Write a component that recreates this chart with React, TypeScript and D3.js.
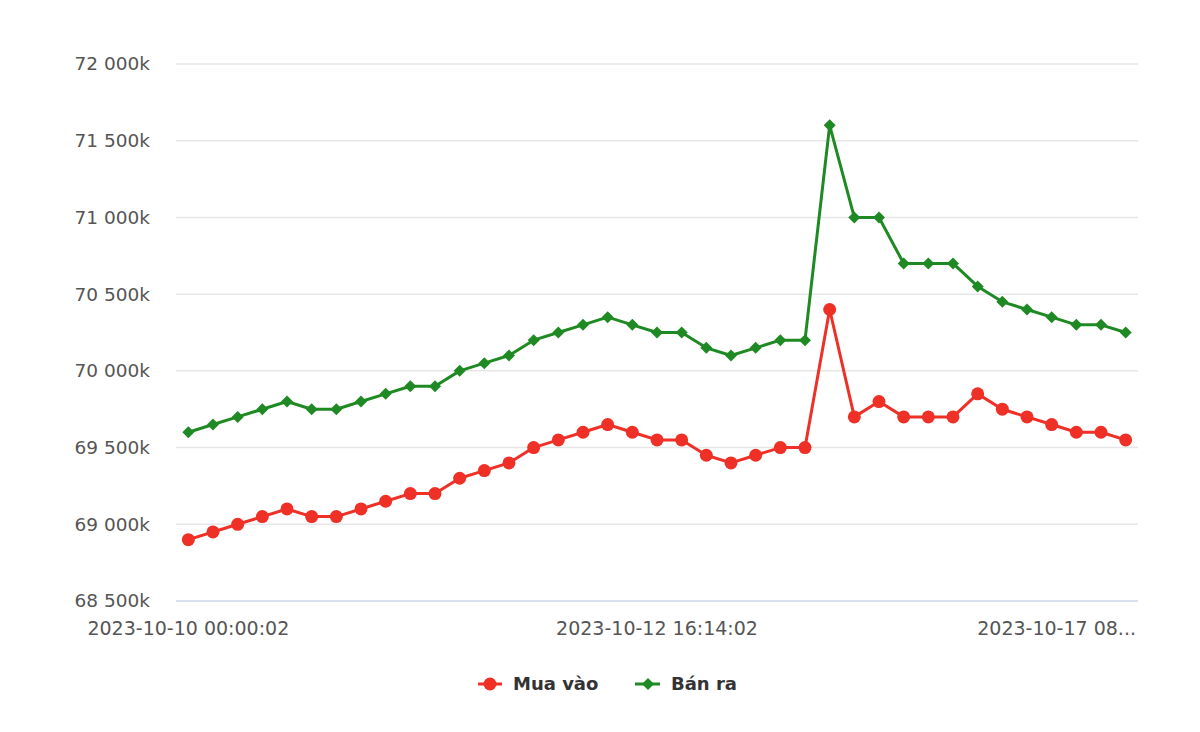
import React from "react";
import * as d3 from "d3";

const buyValues = [
  68900, 68950, 69000, 69050, 69100, 69050, 69050, 69100, 69150, 69200, 69200,
  69300, 69350, 69400, 69500, 69550, 69600, 69650, 69600, 69550, 69550, 69450,
  69400, 69450, 69500, 69500, 70400, 69700, 69800, 69700, 69700, 69700, 69850,
  69750, 69700, 69650, 69600, 69600, 69550,
];
const sellValues = [
  69600, 69650, 69700, 69750, 69800, 69750, 69750, 69800, 69850, 69900, 69900,
  70000, 70050, 70100, 70200, 70250, 70300, 70350, 70300, 70250, 70250, 70150,
  70100, 70150, 70200, 70200, 71600, 71000, 71000, 70700, 70700, 70700, 70550,
  70450, 70400, 70350, 70300, 70300, 70250,
];
const xTickLabels = ["2023-10-10 00:00:02", "2023-10-12 16:14:02", "2023-10-17 08..."];
const xTickIndex = [0, 19, 38];
const yTicks = [68500, 69000, 69500, 70000, 70500, 71000, 71500, 72000];
const seriesNames = ["Mua vào", "Bán ra"];

const RED = "#ee3027";
const GREEN = "#1f8a23";
const FONT = "'DejaVu Sans', Verdana, sans-serif";

export default function App() {
  const left = 176, right = 1138, top = 64, bottom = 601;
  const idx = d3.range(buyValues.length);
  const x = d3.scaleBand<number>().domain(idx).range([left, right]);
  const cx = (i: number) => (x(i) as number) + x.bandwidth() / 2;
  const y = d3.scaleLinear().domain([68500, 72000]).range([bottom, top]);
  const line = d3.line<number>().x((_, i) => cx(i)).y((v) => y(v));
  const fmt = (v: number) => d3.format(",")(v).replace(/,/g, " ") + "k";
  const diamond = (px: number, py: number, r: number) =>
    `M${px},${py - r}L${px + r},${py}L${px},${py + r}L${px - r},${py}Z`;

  return (
    <svg width={1200} height={732} style={{ position: "absolute", left: 0, top: 0, background: "#fff" }}>
      {yTicks.map((t) => (
        <g key={t}>
          <line x1={left} x2={right} y1={y(t)} y2={y(t)} stroke={t === 68500 ? "#ccd6eb" : "#e6e6e6"} strokeWidth={1.5} />
          <text x={150} y={y(t)} dy="0.35em" textAnchor="end" fontFamily={FONT} fontSize={18.5} fill="#555">
            {fmt(t)}
          </text>
        </g>
      ))}
      {xTickIndex.map((i, k) => (
        <text
          key={i}
          x={k === xTickLabels.length - 1 ? 1136 : cx(i)}
          y={635}
          textAnchor={k === xTickLabels.length - 1 ? "end" : "middle"}
          fontFamily={FONT}
          fontSize={19}
          fill="#555"
        >
          {xTickLabels[k]}
        </text>
      ))}
      <path d={line(sellValues) || ""} fill="none" stroke={GREEN} strokeWidth={3} strokeLinejoin="round" />
      {sellValues.map((v, i) => (
        <path key={i} d={diamond(cx(i), y(v), 6)} fill={GREEN} />
      ))}
      <path d={line(buyValues) || ""} fill="none" stroke={RED} strokeWidth={3} strokeLinejoin="round" />
      {buyValues.map((v, i) => (
        <circle key={i} cx={cx(i)} cy={y(v)} r={6.5} fill={RED} />
      ))}
      <g>
        <line x1={478} x2={502} y1={684} y2={684} stroke={RED} strokeWidth={3} />
        <circle cx={490} cy={684} r={6.5} fill={RED} />
        <text x={513} y={684} dy="0.35em" fontFamily={FONT} fontSize={18} fontWeight="bold" fill="#333">
          {seriesNames[0]}
        </text>
        <line x1={635} x2={660} y1={684} y2={684} stroke={GREEN} strokeWidth={3} />
        <path d={diamond(648, 684, 6)} fill={GREEN} />
        <text x={671} y={684} dy="0.35em" fontFamily={FONT} fontSize={18} fontWeight="bold" fill="#333">
          {seriesNames[1]}
        </text>
      </g>
    </svg>
  );
}
